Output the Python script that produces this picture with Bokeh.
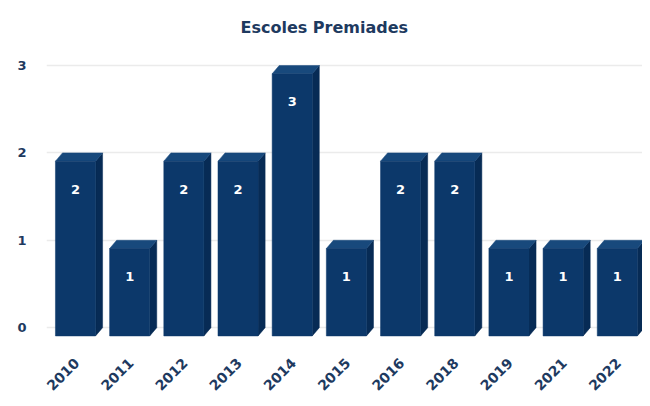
from bokeh.plotting import figure
from bokeh.models import Range1d, FixedTicker, ColumnDataSource
from bokeh.embed import file_html
from bokeh.resources import INLINE
from bokeh.core.properties import value

years = ["2010", "2011", "2012", "2013", "2014", "2015", "2016", "2018", "2019", "2021", "2022"]
counts = [2, 1, 2, 2, 3, 1, 2, 2, 1, 1, 1]
y_ticks = [0, 1, 2, 3]

FRONT = "#0c386a"
SIDE = "#072b55"
TOP = "#18497c"
TXT = "#1e3a5f"

DX = 0.13   # depth (x, data units)
DY = 0.095  # depth (y, data units)
HW = 0.37   # half width of face

p = figure(width=642, height=398, output_backend="svg", toolbar_location=None,
           x_range=Range1d(-0.6, 10.4), y_range=Range1d(-0.17, 3.286),
           min_border_left=46, min_border_right=0, min_border_top=40, min_border_bottom=53)

p.title.text = "Escoles Premiades"
p.title.align = "left"
p.title.offset = 194
p.title.standoff = 8
p.title.text_font = "DejaVu Sans"
p.title.text_font_size = "16px"
p.title.text_font_style = "bold"
p.title.text_color = TXT

p.outline_line_color = None
p.background_fill_color = "white"
p.border_fill_color = "white"

xs = list(range(len(years)))

# front faces
fl = [x - DX / 2 - HW for x in xs]
fr = [x - DX / 2 + HW for x in xs]
ft = [c - DY for c in counts]
fb = [-DY for _ in counts]

# side and top faces
side_x, side_y, top_x, top_y = [], [], [], []
for x, c in zip(xs, counts):
    r = x - DX / 2 + HW
    side_x.append([r, r + DX, r + DX, r])
    side_y.append([-DY, 0, c, c - DY])
    l = x - DX / 2 - HW
    top_x.append([l, r, r + DX, l + DX])
    top_y.append([c - DY, c - DY, c, c])

p.ygrid.ticker = FixedTicker(ticks=y_ticks)
p.ygrid.grid_line_color = "#ebebeb"
p.ygrid.grid_line_width = 1.5
p.xgrid.grid_line_color = None

p.patches(side_x, side_y, fill_color=SIDE, line_color=SIDE, line_width=0.5)
p.patches(top_x, top_y, fill_color=TOP, line_color=TOP, line_width=0.5)
p.quad(left=fl, right=fr, top=ft, bottom=fb, fill_color=FRONT, line_color=FRONT, line_width=0.5)

src = ColumnDataSource(dict(x=[x - DX / 2 for x in xs], y=[c - DY - 0.32 for c in counts],
                            t=[str(c) for c in counts]))
p.text(x="x", y="y", text="t", source=src, text_color="white", text_font=value("DejaVu Sans"),
       text_font_size="13px", text_font_style="bold", text_align="center", text_baseline="middle")

p.xaxis.ticker = FixedTicker(ticks=[x - 0.04 for x in xs])
p.xaxis.major_label_overrides = {x - 0.04: y for x, y in zip(xs, years)}
p.xaxis.major_label_orientation = 0.785
p.xaxis.axis_line_color = None
p.xaxis.major_tick_line_color = None
p.xaxis.minor_tick_line_color = None
p.xaxis.major_label_text_font = "DejaVu Sans"
p.xaxis.major_label_text_font_size = "14px"
p.xaxis.major_label_text_font_style = "bold"
p.xaxis.major_label_text_color = TXT
p.xaxis.major_label_standoff = 12

p.yaxis.ticker = FixedTicker(ticks=y_ticks)
p.yaxis.axis_line_color = None
p.yaxis.major_tick_line_color = None
p.yaxis.minor_tick_line_color = None
p.yaxis.major_label_text_font = "DejaVu Sans"
p.yaxis.major_label_text_font_size = "13px"
p.yaxis.major_label_text_font_style = "bold"
p.yaxis.major_label_text_color = TXT
p.yaxis.major_label_standoff = 14

open("out.html", "w").write(file_html(p, INLINE))
